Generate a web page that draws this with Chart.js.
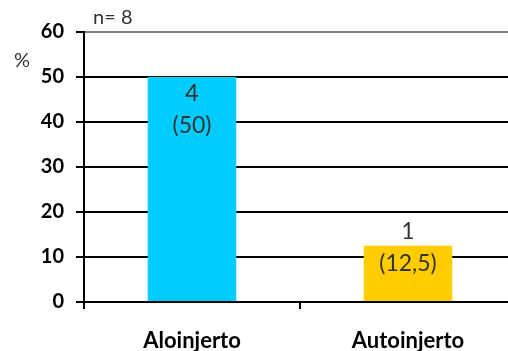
<!DOCTYPE html>
<html><head><meta charset="utf-8">
<script src="https://cdn.jsdelivr.net/npm/chart.js@4/dist/chart.umd.min.js"></script>
<style>
html,body{margin:0;padding:0;background:#fff;overflow:hidden;width:508px;height:351px;}
#wrap{position:absolute;left:0;top:0;width:516px;height:351px;}
</style></head>
<body>
<div id="wrap"><canvas id="c" width="516" height="351"></canvas></div>
<script>
const categories = ["Aloinjerto", "Autoinjerto"];
const percentages = [50, 12.5];
const counts = [4, 1];
const pctLabels = ["(50)", "(12,5)"];
const yTicks = [0, 10, 20, 30, 40, 50, 60];
const sampleLabel = "n= 8";
const yUnit = "%";

const FONT = "Lato, 'Open Sans', sans-serif";
const TEXT = "#333333";

const labelPlugin = {
  id: 'barLabels',
  afterDatasetsDraw(chart) {
    const ctx = chart.ctx;
    const meta = chart.getDatasetMeta(0);
    const offs = [17, -14];
    ctx.save();
    ctx.fillStyle = TEXT;
    ctx.font = "23px " + FONT;
    ctx.textAlign = "center";
    ctx.textBaseline = "middle";
    meta.data.forEach((bar, i) => {
      const y1 = bar.y + offs[i];
      ctx.fillText(String(counts[i]), bar.x, y1);
      ctx.fillText(pctLabels[i], bar.x, y1 + 32);
    });
    const ca = chart.chartArea;
    ctx.font = "20px " + FONT;
    ctx.textAlign = "left";
    ctx.fillText(sampleLabel, ca.left + 9, 18);
    ctx.fillText(yUnit, 14, 61);
    ctx.restore();
  }
};

new Chart(document.getElementById('c'), {
  type: 'bar',
  data: {
    labels: categories,
    datasets: [{
      data: percentages,
      backgroundColor: ["#00CCFF", "#FFCC00"],
      borderWidth: 0,
      barPercentage: 0.41,
      categoryPercentage: 1.0
    }]
  },
  options: {
    responsive: false,
    animation: false,
    devicePixelRatio: 1,
    layout: { padding: { top: 32, left: 0, right: 0, bottom: 0 } },
    plugins: { legend: { display: false }, tooltip: { enabled: false } },
    scales: {
      x: {
        grid: { display: true, drawOnChartArea: false, drawTicks: true, tickLength: 7, offset: true, color: "#000", lineWidth: 2 },
        border: { display: true, color: "#000", width: 2 },
        ticks: { font: { family: FONT, size: 22, weight: "bold" }, color: "#000", padding: 19 },
        afterFit(s) { s.height = 49; }
      },
      y: {
        min: 0, max: 60,
        afterBuildTicks(s) { s.ticks = yTicks.map(v => ({ value: v })); },
        grid: {
          color: (c) => c.tick && c.tick.value === 60 ? "#808080" : "#000",
          tickColor: "#000",
          lineWidth: 2,
          drawTicks: true,
          tickLength: 8
        },
        border: { display: true, color: "#000", width: 2 },
        ticks: { font: { family: FONT, size: 20, weight: "bold" }, color: "#000", padding: 12 },
        afterFit(s) { s.width = 84; }
      }
    }
  },
  plugins: [labelPlugin]
});
</script>
</body></html>
